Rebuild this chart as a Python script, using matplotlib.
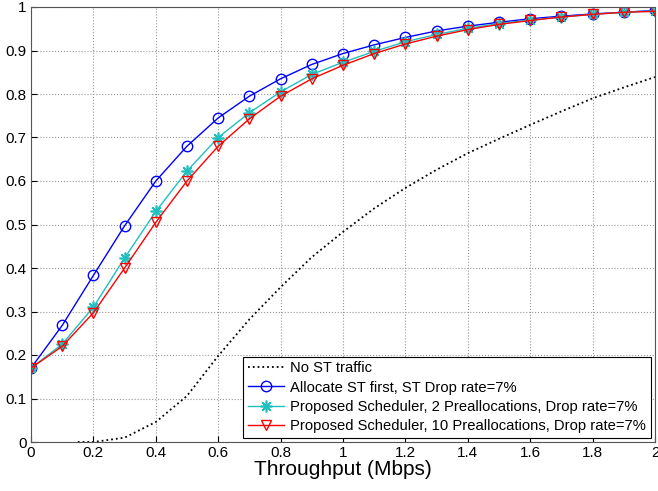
import matplotlib
matplotlib.use('Agg')
import matplotlib.pyplot as plt
import numpy as np

plt.rcParams['font.family'] = ['Liberation Sans', 'DejaVu Sans']

# throughput grid (Mbps)
x = [0.0, 0.1, 0.2, 0.3, 0.4, 0.5, 0.6, 0.7, 0.8, 0.9, 1.0,
     1.1, 1.2, 1.3, 1.4, 1.5, 1.6, 1.7, 1.8, 1.9, 2.0]

# no ST traffic (dotted black), starts at 0.15
x_nost = [0.15, 0.2, 0.3, 0.4, 0.5, 0.6, 0.7, 0.8, 0.9, 1.0,
          1.1, 1.2, 1.3, 1.4, 1.5, 1.6, 1.7, 1.8, 1.9, 2.0]
y_nost = [0.0, 0.0, 0.01, 0.046, 0.106, 0.198, 0.282, 0.356, 0.425, 0.483,
          0.537, 0.584, 0.626, 0.664, 0.697, 0.729, 0.760, 0.790, 0.815, 0.839]

y_alloc = [0.17, 0.268, 0.383, 0.497, 0.600, 0.680, 0.745, 0.795, 0.835, 0.868, 0.893,
           0.913, 0.930, 0.945, 0.956, 0.965, 0.973, 0.979, 0.984, 0.988, 0.992]

y_prop2 = [0.17, 0.225, 0.310, 0.423, 0.530, 0.623, 0.700, 0.757, 0.805, 0.845, 0.873,
           0.898, 0.920, 0.937, 0.951, 0.962, 0.970, 0.977, 0.983, 0.988, 0.991]

y_prop10 = [0.17, 0.220, 0.297, 0.400, 0.505, 0.600, 0.680, 0.743, 0.795, 0.835, 0.866,
            0.893, 0.915, 0.933, 0.948, 0.960, 0.969, 0.977, 0.983, 0.988, 0.990]

labels = ['No ST traffic',
          'Allocate ST first, ST Drop rate=7%',
          'Proposed Scheduler, 2 Preallocations, Drop rate=7%',
          'Proposed Scheduler, 10 Preallocations, Drop rate=7%']

fig = plt.figure(figsize=(6.58, 4.91), dpi=100)
ax = fig.add_axes([31 / 658, 1 - 442 / 491, 624 / 658, 435 / 491])

ax.plot(x_nost, y_nost, ':', color='black', lw=1.3, label=labels[0])
ax.plot(x, y_alloc, '-o', color='#0000ff', lw=1, ms=7.5, mfc='none', mew=1, label=labels[1])
ax.plot(x, y_prop2, '-', marker=(8, 2, 0), color='#20c0c0', lw=1, ms=8.5, mew=1.2,
        label=labels[2])
ax.plot(x, y_prop10, '-v', color='#ff0000', lw=1, ms=7.5, mfc='none', mew=1, label=labels[3])

ax.set_xlim(0, 2)
ax.set_ylim(0, 1)
ax.set_xticks(np.arange(0, 2.01, 0.2))
ax.set_yticks(np.arange(0, 1.01, 0.1))
ax.set_xticklabels(['0', '0.2', '0.4', '0.6', '0.8', '1', '1.2', '1.4', '1.6', '1.8', '2'])
ax.set_yticklabels(['0', '0.1', '0.2', '0.3', '0.4', '0.5', '0.6', '0.7', '0.8', '0.9', '1'])
ax.tick_params(direction='in', labelsize=11, length=4, pad=3)
ax.grid(True, linestyle=':', color='#999999', lw=0.8)
for s in ax.spines.values():
    s.set_color('#555555')

ax.set_xlabel('Throughput (Mbps)', fontsize=15, labelpad=0)

leg = ax.legend(loc='lower right', fontsize=10.6, fancybox=False, framealpha=1,
                edgecolor='black', borderaxespad=0.3, handlelength=2.5,
                labelspacing=0.36, borderpad=0.3, handletextpad=0.4)
leg.get_frame().set_linewidth(0.8)

fig.savefig('out.png', dpi=100)
